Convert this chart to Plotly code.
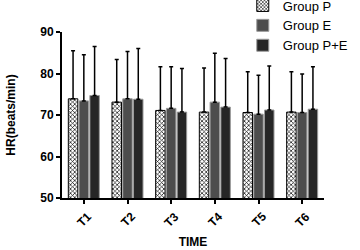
import plotly.graph_objects as go

categories = ["T1", "T2", "T3", "T4", "T5", "T6"]
group_p = [73.9, 73.1, 71.1, 70.7, 70.6, 70.7]
group_p_sd = [11.6, 10.3, 10.5, 10.6, 9.8, 9.7]
group_e = [73.4, 73.9, 71.6, 73.1, 70.2, 70.6]
group_e_sd = [11.1, 11.4, 10.0, 11.8, 9.4, 9.3]
group_pe = [74.7, 73.8, 70.7, 71.9, 71.2, 71.4]
group_pe_sd = [11.8, 12.2, 10.5, 11.7, 10.6, 10.2]

font_family = "Liberation Sans, Arial, sans-serif"

def err(sd):
    return dict(type="data", array=sd, arrayminus=[0] * len(sd), symmetric=False,
                color="black", thickness=1.5, width=2)

fig = go.Figure()
fig.add_trace(go.Bar(
    name="Group P", x=categories, y=group_p, error_y=err(group_p_sd),
    marker=dict(color="white", line=dict(color="black", width=1),
                pattern=dict(shape="x", size=3, solidity=0.4, fgcolor="black",
                             bgcolor="white", fillmode="replace")),
))
fig.add_trace(go.Bar(
    name="Group E", x=categories, y=group_e, error_y=err(group_e_sd),
    marker=dict(color="#4d4d4d", line=dict(color="#9a9a9a", width=1)),
))
fig.add_trace(go.Bar(
    name="Group P+E", x=categories, y=group_pe, error_y=err(group_pe_sd),
    marker=dict(color="#262626", line=dict(color="#9a9a9a", width=1)),
))

# Rotated category labels centred under each tick
for cat in categories:
    fig.add_annotation(x=cat, xref="x", y=-0.13, yref="paper",
                       text=cat, textangle=-45, showarrow=False,
                       xanchor="center", yanchor="middle",
                       font=dict(size=12, weight="bold", color="black"))

fig.update_layout(
    width=360, height=250,
    margin=dict(l=62, r=36, t=32, b=52, autoexpand=False),
    paper_bgcolor="white", plot_bgcolor="white",
    barmode="group", bargap=0.26, bargroupgap=0.12,
    font=dict(family=font_family, color="black", size=11, weight="bold"),
    showlegend=True,
    legend=dict(x=0.69, y=1.25, xanchor="left", yanchor="top",
                bgcolor="rgba(0,0,0,0)", font=dict(size=13, weight="normal"),
                tracegroupgap=0, itemwidth=30),
    xaxis=dict(
        showline=True, linecolor="black", linewidth=2,
        ticks="outside", ticklen=4, tickwidth=1.5, tickcolor="black",
        showticklabels=False,
        title=dict(text="TIME", font=dict(size=12, weight="bold"), standoff=35),
    ),
    yaxis=dict(
        range=[50, 90], tickvals=[50, 60, 70, 80, 90],
        showline=True, linecolor="black", linewidth=2,
        ticks="outside", ticklen=4, tickwidth=1.5, tickcolor="black",
        showgrid=False, zeroline=False,
        tickfont=dict(size=12, weight="bold"),
        title=dict(text="HR(beats/min)", font=dict(size=12, weight="bold"), standoff=22),
    ),
)

fig.write_html("out.html", config={"displayModeBar": False},
               post_script="document.body.style.margin='0';")
